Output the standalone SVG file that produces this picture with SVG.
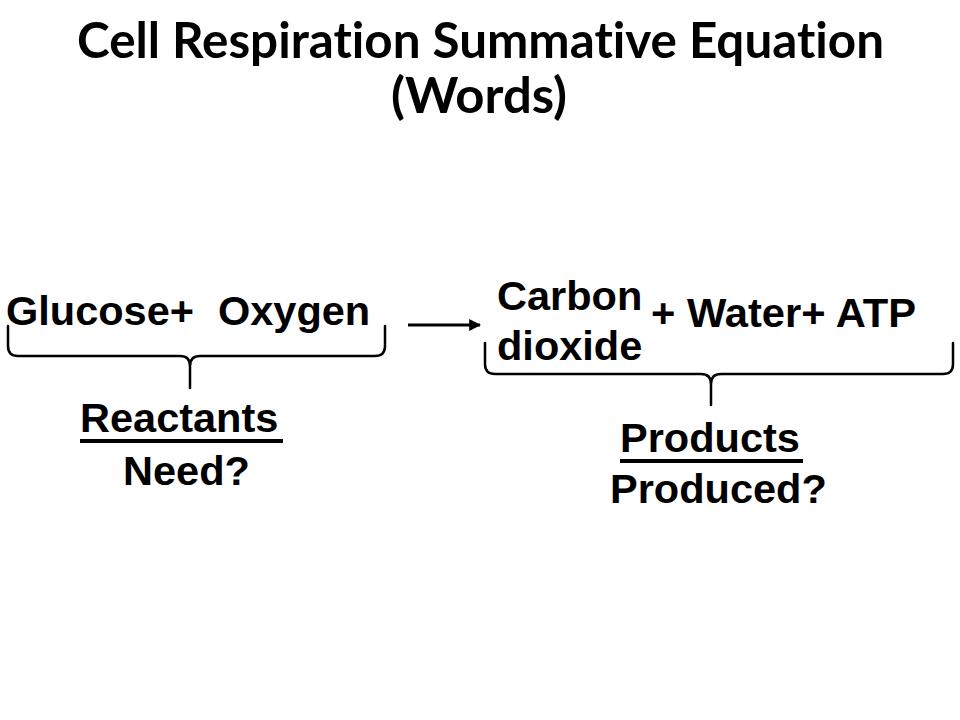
<svg xmlns="http://www.w3.org/2000/svg" width="960" height="720" viewBox="0 0 960 720">
<style>
.title{font-family:Lato,"Open Sans","Liberation Sans",sans-serif;font-weight:700;font-size:50px;fill:#000;font-variant-ligatures:none}
.t{font-family:"Liberation Sans",Arial,sans-serif;font-weight:700;font-size:41.5px;fill:#000}
.brace{fill:none;stroke:#000;stroke-width:2.5;stroke-linecap:round;stroke-linejoin:round}
.ul{stroke:#000;stroke-width:4}
</style>
<defs>
<marker id="ah" viewBox="0 0 10 10" refX="9" refY="5" markerWidth="4" markerHeight="4" orient="auto" markerUnits="strokeWidth">
<path d="M0 0 L10 5 L0 10 Z" fill="#000"/>
</marker>
</defs>
<rect width="960" height="720" fill="#fff"/>
<g id="title">
<text class="title" x="77" y="58" textLength="807" lengthAdjust="spacingAndGlyphs">Cell Respiration Summative Equation</text>
<text class="title" x="391" y="113" textLength="176" lengthAdjust="spacingAndGlyphs">(Words)</text>
</g>
<g id="glucose"><text class="t" x="6" y="325">Glucose+</text></g>
<g id="oxygen"><text class="t" x="218" y="325">Oxygen</text></g>
<g id="carbon-dioxide"><text class="t" x="497" y="310">Carbon</text><text class="t" x="497" y="360">dioxide</text></g>
<g id="water-atp"><text class="t" x="651" y="327" textLength="265" lengthAdjust="spacingAndGlyphs">+ Water+ ATP</text></g>
<g id="reactants">
<text class="t" x="80" y="432">Reactants</text>
<line class="ul" x1="80" y1="441" x2="283" y2="441"/>
<text class="t" x="123" y="485">Need?</text>
</g>
<g id="products">
<text class="t" x="620" y="452">Products</text>
<line class="ul" x1="620" y1="461" x2="803" y2="461"/>
<text class="t" x="610" y="503">Produced?</text>
</g>
<g id="connectors">
<line x1="408" y1="325" x2="480" y2="325" stroke="#000" stroke-width="3" marker-end="url(#ah)"/>
<path class="brace" d="M8 326 V346 Q8 356 18 356 H180 Q190 356 190 366 V388 M190 366 Q190 356 200 356 H375 Q385 356 385 346 V326"/>
<path class="brace" d="M485 343 V364 Q485 374 495 374 H701 Q711 374 711 384 V405 M711 384 Q711 374 721 374 H943 Q953 374 953 364 V343"/>
</g>
</svg>
